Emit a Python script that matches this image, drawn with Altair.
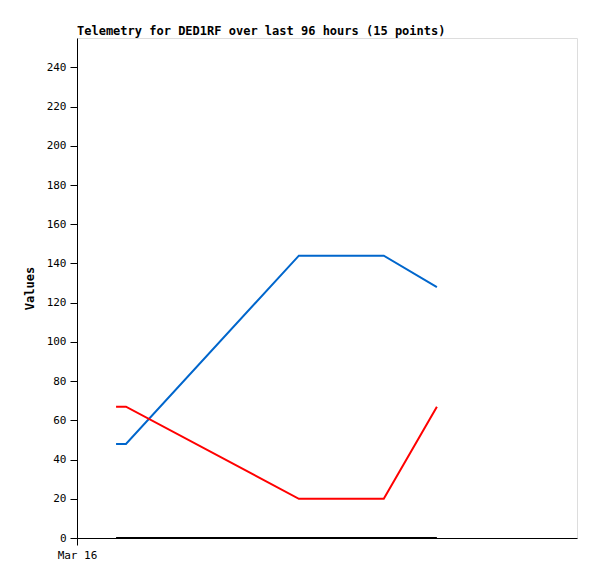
import altair as alt
import pandas as pd

hours = [7.5, 9.4, 42.6, 58.9, 69.1]
blue_vals = [48, 48, 144, 144, 128]
red_vals = [67, 67, 20, 20, 67]
black_vals = [0, 0, 0, 0, 0]
series_names = ["blue", "red", "black"]
series_colors = ["#0066cc", "#ff0000", "#000000"]

rows = []
for name, vals in zip(series_names, [blue_vals, red_vals, black_vals]):
    for h, v in zip(hours, vals):
        rows.append({"hour": h, "value": v, "series": name})
df = pd.DataFrame(rows)

font = "DejaVu Sans Mono"

chart = alt.Chart(df).mark_line(strokeWidth=2).encode(
    x=alt.X("hour:Q", scale=alt.Scale(domain=[0, 96], nice=False),
            axis=alt.Axis(values=[0], labelExpr="'Mar 16'", title=None, grid=False,
                          domainColor="black", tickColor="black", tickSize=7,
                          labelFlush=False,
                          labelFont=font, labelFontSize=11, labelColor="black",
                          labelPadding=4)),
    y=alt.Y("value:Q", scale=alt.Scale(domain=[0, 255], nice=False),
            axis=alt.Axis(values=list(range(0, 241, 20)), title="Values", grid=False,
                          domainColor="black", tickColor="black", tickSize=7,
                          labelFont=font, labelFontSize=11, labelColor="black",
                          titleFont=font, titleFontSize=12, titleFontWeight="bold",
                          titleColor="black", titlePadding=10, labelPadding=4)),
    color=alt.Color("series:N", scale=alt.Scale(domain=series_names, range=series_colors), legend=None),
    detail="series:N",
).properties(
    width=500, height=500,
    title=alt.TitleParams("Telemetry for DED1RF over last 96 hours (15 points)",
                          anchor="start", frame="group", font=font, fontSize=12,
                          fontWeight="bold", color="black", offset=0),
    padding={"left": 69, "top": 30, "right": 10, "bottom": 30},
    autosize=alt.AutoSizeParams(type="none"),
).configure_view(stroke="#000000", strokeWidth=1).configure(background="white")

chart.save("out.html", embed_options={"renderer": "svg", "actions": False})
